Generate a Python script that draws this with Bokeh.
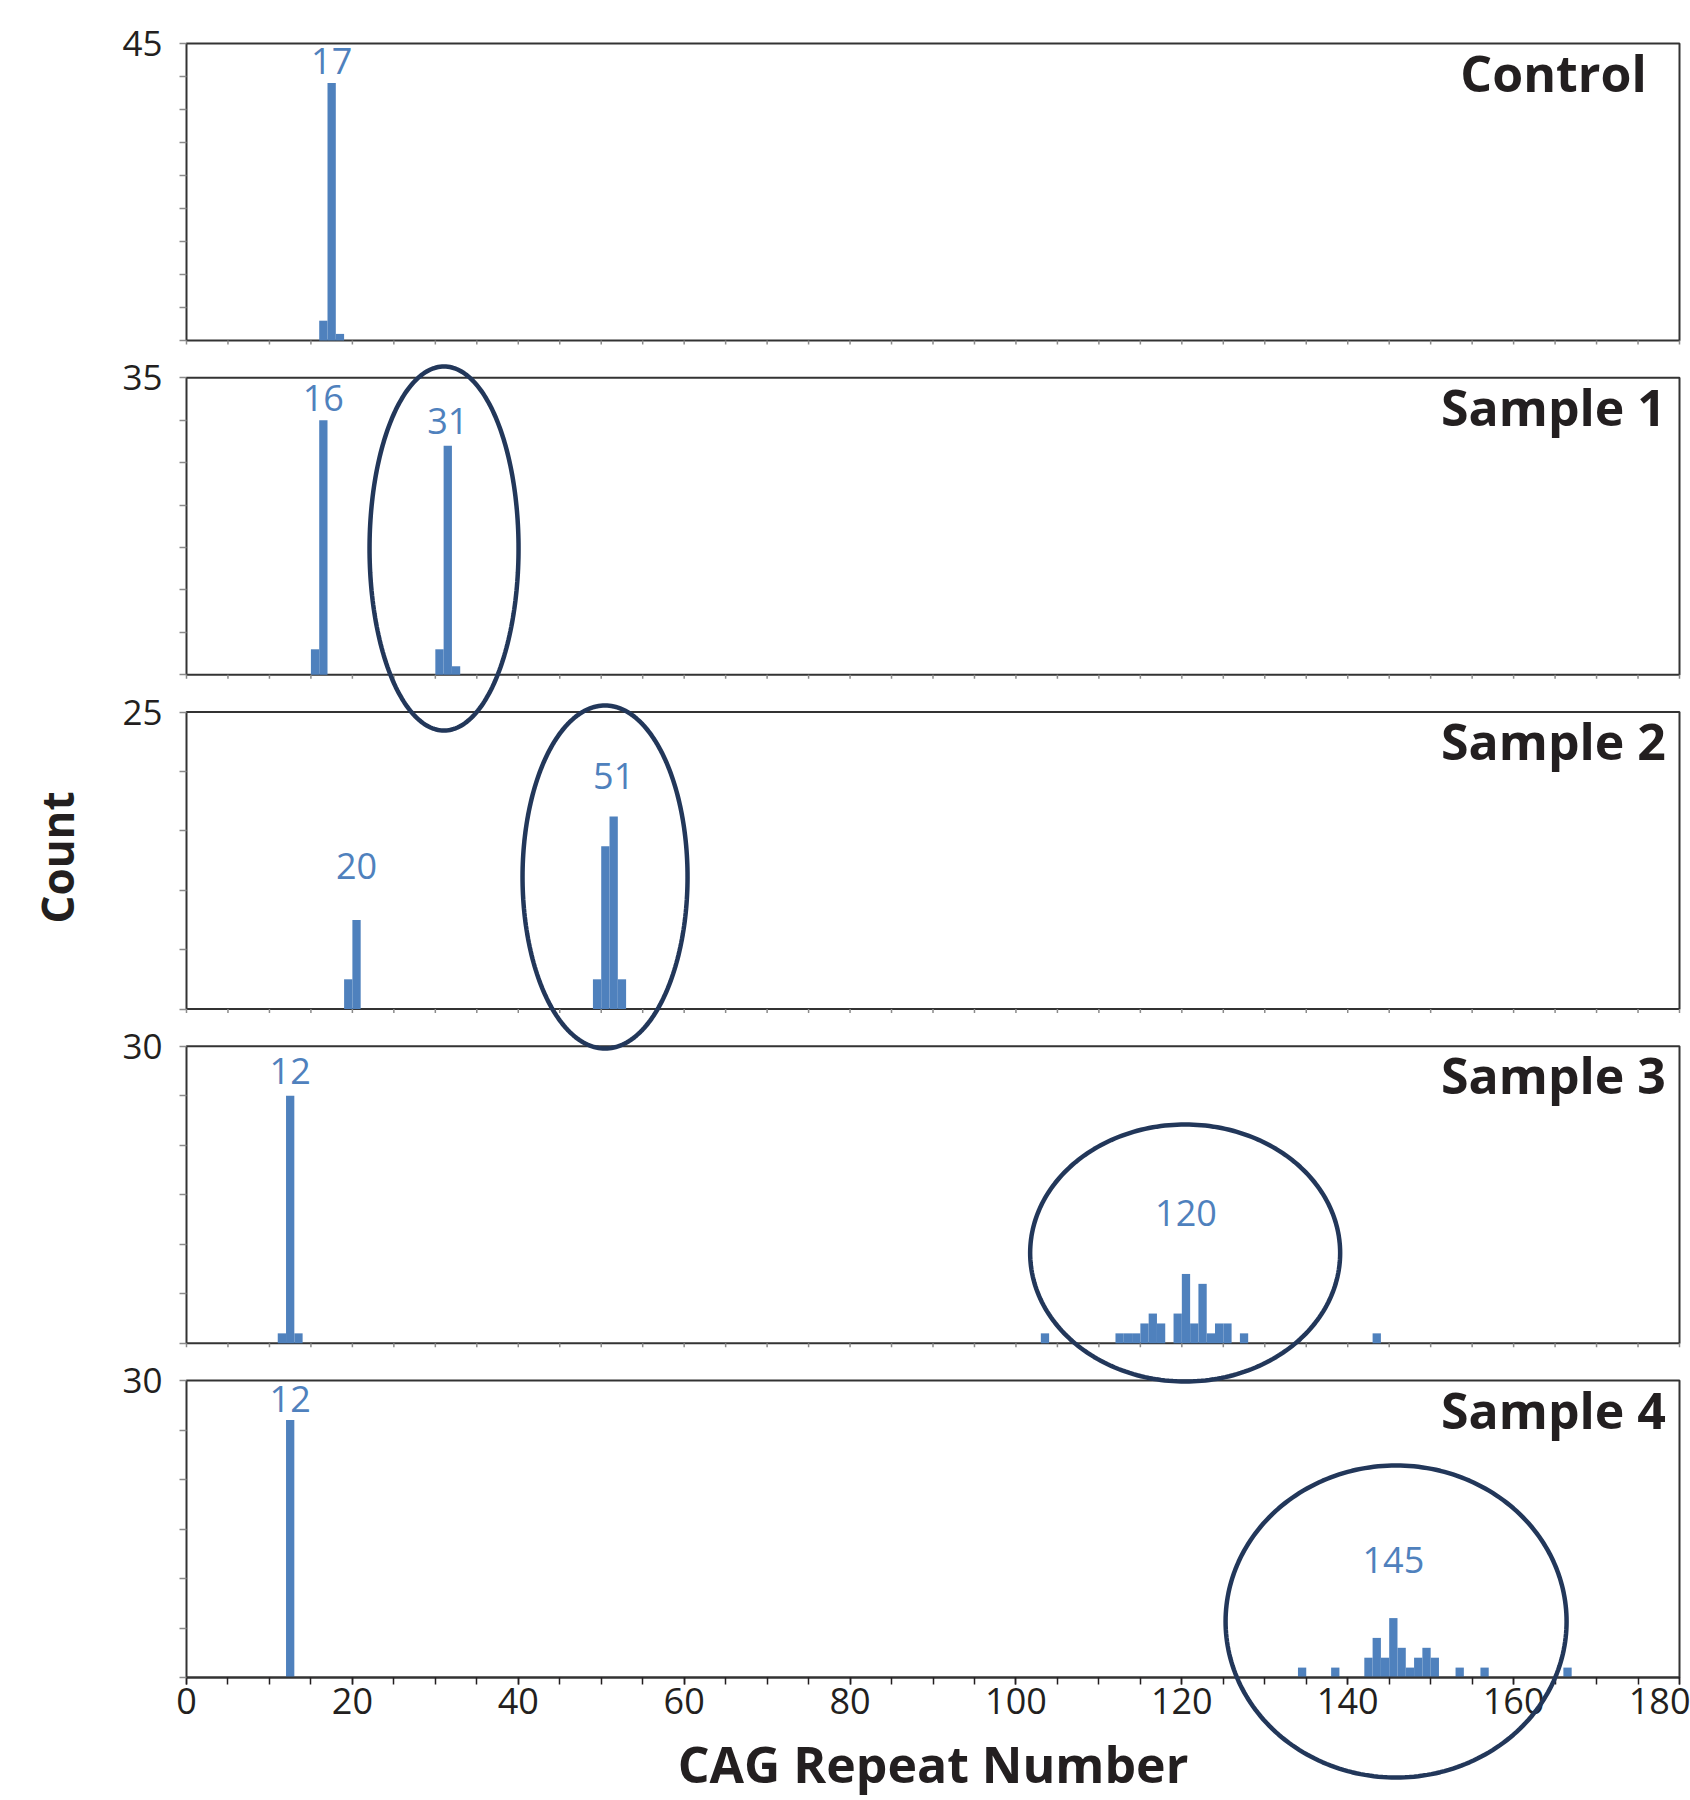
import math
from bokeh.plotting import figure
from bokeh.models import Range1d, FixedTicker, ColumnDataSource, PolyAnnotation
from bokeh.core.properties import value
from bokeh.embed import file_html
from bokeh.resources import INLINE

# ---------------- data ----------------
titles = ["Control", "Sample 1", "Sample 2", "Sample 3", "Sample 4"]
y_max = [45, 35, 25, 30, 30]

control_x = [16, 17, 18]
control_n = [3, 39, 1]

s1_x = [15, 16, 30, 31, 32]
s1_n = [3, 30, 3, 27, 1]

s2_x = [19, 20, 49, 50, 51, 52]
s2_n = [2.5, 7.5, 2.5, 13.7, 16.2, 2.5]

s3_x = [11, 12, 13, 103, 112, 113, 114, 115, 116, 117, 119, 120, 121, 122, 123, 124, 125, 127, 143]
s3_n = [1, 25, 1, 1, 1, 1, 1, 2, 3, 2, 3, 7, 2, 6, 1, 2, 2, 1, 1]

s4_x = [12, 134, 138, 142, 143, 144, 145, 146, 147, 148, 149, 150, 153, 156, 166]
s4_n = [26, 1, 1, 2, 4, 2, 6, 3, 1, 2, 3, 2, 1, 1, 1]

peaks = [[17], [16, 31], [20, 51], [12, 120], [12, 145]]
peak_label_y = [[40.2], [30.9, 28.2], [10.8, 18.4], [26.0, 11.7], [26.7, 10.4]]

x_label_ticks = [0, 20, 40, 60, 80, 100, 120, 140, 160, 180]
x_all_ticks = [0, 5, 10, 15, 20, 25, 30, 35, 40, 45, 50, 55, 60, 65, 70, 75, 80, 85, 90,
               95, 100, 105, 110, 115, 120, 125, 130, 135, 140, 145, 150, 155, 160, 165,
               170, 175, 180]

x_title = "CAG Repeat Number"
y_title = "Count"

series_x = [control_x, s1_x, s2_x, s3_x, s4_x]
series_n = [control_n, s1_n, s2_n, s3_n, s4_n]

# ---------------- layout (canvas px) ----------------
W, H = 1690, 1800
X_MAX = 180
LEFT = 186                  # px of repeat 0
PPU = 1493 / X_MAX          # px per repeat unit
PANEL_H = 297
PITCH = 334.25
BOTTOM = 123                # px from canvas bottom to lowest panel
FONT = "Open Sans"
BLUE = "#4F81BD"
INK = "#231F20"
NAVY = "#22375A"
BASE_FIX = 0.40             # baseline correction (fraction of font size)
PEAK_FS = 36

def xd(px):
    return (px - LEFT) / PPU

p = figure(width=W, height=H,
           x_range=Range1d(xd(0), xd(W)), y_range=Range1d(0, H),
           output_backend="svg", toolbar_location=None,
           min_border_left=0, min_border_right=0, min_border_top=0, min_border_bottom=0)
p.outline_line_color = None
p.grid.visible = False
p.background_fill_color = "white"
p.border_fill_color = "white"

extra = {}
y_ticks = []
overrides = {}
panel_info = []
for i in range(5):
    k = 4 - i
    b = BOTTOM + k * PITCH
    s = PANEL_H / y_max[i]
    name = "panel%d" % i
    extra[name] = Range1d(-b / s, (H - b) / s)
    panel_info.append((name, b, s))
    for v in range(0, y_max[i] + 1, 5):
        t = round(b + v * s, 3)
        y_ticks.append(t)
        overrides[t] = str(y_max[i]) if v == y_max[i] else ""
p.extra_y_ranges = extra

for i in range(5):
    name, b, s = panel_info[i]
    M = y_max[i]
    # panel box
    p.quad(left=[0], right=[X_MAX], bottom=[0], top=[M], y_range_name=name,
           fill_color=None, line_color="#333333", line_width=2)
    # bars
    src = ColumnDataSource(dict(left=series_x[i], right=[x + 1 for x in series_x[i]],
                                top=series_n[i]))
    p.quad(left="left", right="right", bottom=0, top="top", source=src,
           y_range_name=name, fill_color=BLUE, line_color=None)
    # peak labels (x centred on bar, baseline corrected)
    lab = ColumnDataSource(dict(x=[v + 0.5 for v in peaks[i]],
                                y=[v + BASE_FIX * PEAK_FS / s for v in peak_label_y[i]],
                                t=[str(v) for v in peaks[i]]))
    p.text(x="x", y="y", text="t", source=lab, y_range_name=name,
           text_align="center", text_baseline="alphabetic",
           text_font=value(FONT), text_font_size="%dpx" % PEAK_FS, text_color=BLUE)
    # panel title
    p.text(x=[xd(1553)], y=[b + PANEL_H - 49 + BASE_FIX * 50], text=[titles[i]],
           text_align="center", text_baseline="alphabetic",
           text_font=value(FONT), text_font_size="50px", text_font_style="bold",
           text_color=INK)
    # small ticks under upper panels
    if i < 4:
        p.segment(x0=x_all_ticks, y0=b, x1=x_all_ticks, y1=b - 4,
                  line_color="#8a8a8a", line_width=1.5)

# axis titles as text (axes sit at fixed locations inside the canvas)
p.text(x=[X_MAX / 2], y=[H - 1783 + BASE_FIX * 50], text=[x_title],
       text_align="center", text_baseline="alphabetic",
       text_font=value(FONT), text_font_size="50px", text_font_style="bold",
       text_color=INK)
p.text(x=[xd(74 - BASE_FIX * 44)], y=[H - 857], text=[y_title], angle=math.pi / 2,
       text_align="center", text_baseline="alphabetic",
       text_font=value(FONT), text_font_size="44px", text_font_style="bold",
       text_color=INK)

# ---------------- axes ----------------
xa = p.xaxis[0]
xa.fixed_location = BOTTOM
xa.ticker = FixedTicker(ticks=x_label_ticks, minor_ticks=x_all_ticks)
xa.bounds = (0, X_MAX)
xa.axis_line_color = "#333333"
xa.axis_line_width = 2
xa.major_tick_in = 0
xa.major_tick_out = 7
xa.minor_tick_in = 0
xa.minor_tick_out = 7
xa.major_tick_line_color = INK
xa.minor_tick_line_color = INK
xa.major_tick_line_width = 1.5
xa.minor_tick_line_width = 1.5
xa.major_label_standoff = 3
xa.major_label_text_font = FONT
xa.major_label_text_font_size = "36px"
xa.major_label_text_color = INK

ya = p.yaxis[0]
ya.fixed_location = 0
ya.ticker = FixedTicker(ticks=y_ticks, minor_ticks=[])
ya.major_label_overrides = overrides
ya.axis_line_color = None
ya.major_tick_in = 0
ya.major_tick_out = 7
ya.major_tick_line_color = "#8c8c8c"
ya.major_tick_line_width = 1.5
ya.minor_tick_line_color = None
ya.major_label_standoff = 17
ya.major_label_text_font = FONT
ya.major_label_text_font_size = "35px"
ya.major_label_text_color = INK

# ---------------- circled clusters ----------------
# (centre x in repeat units, centre y in px above canvas bottom, radius x px, radius y px)
ellipses = [(31.05, 1252.0, 74.5, 182.0),
            (50.46, 923.5, 82.5, 171.5),
            (120.4, 547.5, 155.0, 128.5),
            (145.83, 179.0, 170.5, 156.0)]
for cx, cy, rx, ry in ellipses:
    n = 240
    xs = [cx + rx / PPU * math.cos(2 * math.pi * j / n) for j in range(n)]
    ys = [cy + ry * math.sin(2 * math.pi * j / n) for j in range(n)]
    p.add_layout(PolyAnnotation(xs=xs, ys=ys, xs_units="data", ys_units="data",
                                fill_color=None, fill_alpha=0,
                                line_color=NAVY, line_alpha=1.0, line_width=4.5))

open("out.html", "w").write(file_html(p, INLINE))
